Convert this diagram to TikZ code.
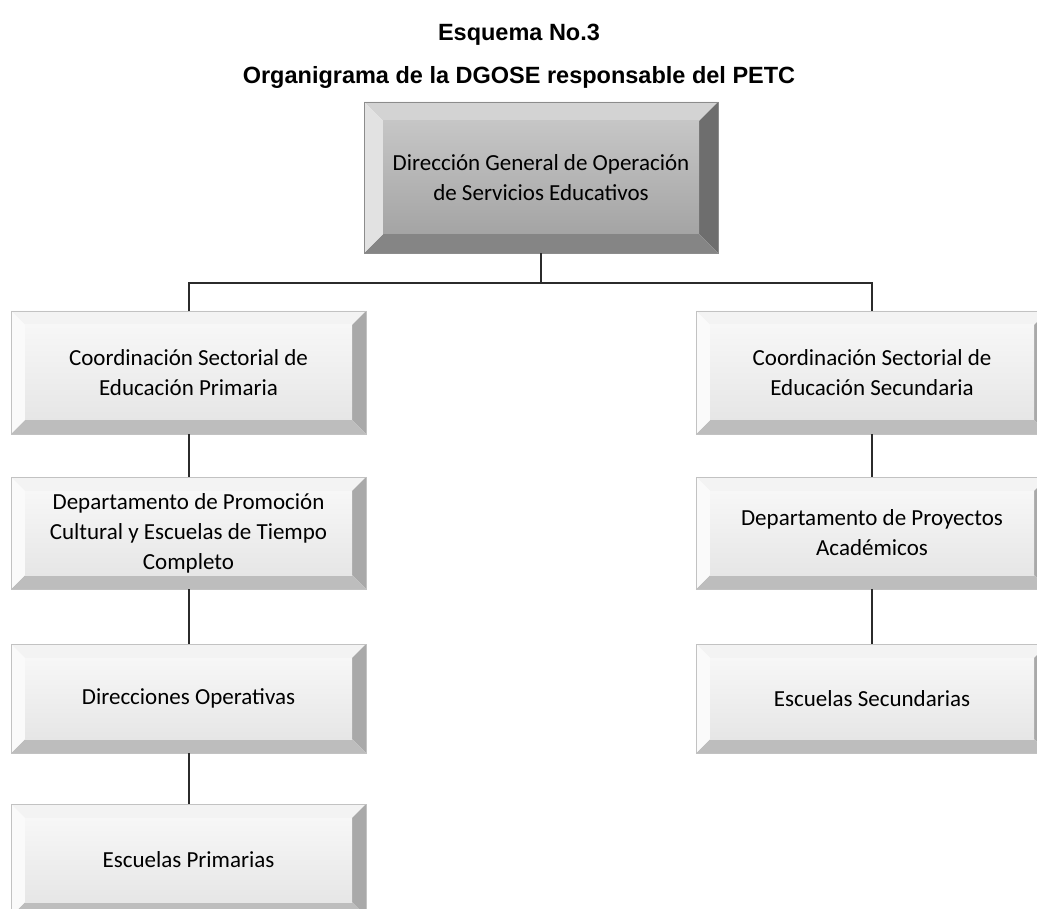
\documentclass[tikz,border=0pt]{standalone}
\usepackage{fontspec}
\newfontfamily\boxfont{Carlito}
\newfontfamily\titlefont{Liberation Sans}
\definecolor{LtTop}{HTML}{F3F3F3}
\definecolor{LtLeft}{HTML}{FAFAFA}
\definecolor{LtRight}{HTML}{A9A9A9}
\definecolor{LtBottom}{HTML}{BDBDBD}
\definecolor{LtFaceA}{HTML}{F7F7F7}
\definecolor{LtFaceB}{HTML}{E6E6E6}
\definecolor{LtLine}{HTML}{C2C2C2}
\definecolor{DkTop}{HTML}{D3D3D3}
\definecolor{DkLeft}{HTML}{E2E2E2}
\definecolor{DkRight}{HTML}{6E6E6E}
\definecolor{DkBottom}{HTML}{858585}
\definecolor{DkFaceA}{HTML}{C6C6C6}
\definecolor{DkFaceB}{HTML}{A4A4A4}
\definecolor{DkLine}{HTML}{8C8C8C}
\definecolor{LinkGray}{HTML}{2B2B2B}
\tikzset{
  bevel/.store in=\bv, bevel=14pt,
  bevelbox/.style={draw=#1Line, line width=.6pt, inner sep=0pt, minimum width=355pt, align=center,
    font=\boxfont\fontsize{23}{30}\selectfont,
    path picture={
      \coordinate (sw) at (path picture bounding box.south west); \coordinate (ne) at (path picture bounding box.north east);
      \coordinate (isw) at ([shift={(\bv,\bv)}]sw); \coordinate (ine) at ([shift={(-\bv,-\bv)}]ne);
      \fill[#1Top] (sw|-ne) -- (ne) -- (ine) -- (isw|-ine) -- cycle;
      \fill[#1Right] (ne) -- (ne|-sw) -- (ine|-isw) -- (ine) -- cycle;
      \fill[#1Bottom] (sw) -- (ne|-sw) -- (ine|-isw) -- (isw) -- cycle;
      \fill[#1Left] (sw) -- (sw|-ne) -- (isw|-ine) -- (isw) -- cycle;
      \shade[top color=#1FaceA, bottom color=#1FaceB] (isw) rectangle (ine);
    }},
  link/.style={draw=LinkGray, line width=2pt}
}
\begin{document}
\begin{tikzpicture}[x=1pt,y=-1pt]
  \useasboundingbox (0,0) rectangle (1037,909); \clip (0,0) rectangle (1037,909);
  \node[font=\titlefont\bfseries\fontsize{23.5}{28}\selectfont, anchor=base] (esq) at (519,40.5) {Esquema No.3};
  \node[font=\titlefont\bfseries\fontsize{23.5}{28}\selectfont, anchor=base] (org) at (519,83.5) {Organigrama de la DGOSE responsable del PETC};
  \node[bevelbox=Dk, bevel=19pt, minimum width=354pt, minimum height=151pt] (dgose) at (541,177.5) {Dirección General de Operación\\de Servicios Educativos};
  \node[bevelbox=Lt, minimum height=123pt] (cpri) at (188.5,372.5) {Coordinación Sectorial de\\Educación Primaria};
  \node[bevelbox=Lt, minimum height=112pt] (dpro) at (188.5,533) {Departamento de Promoción\\Cultural y Escuelas de Tiempo\\Completo};
  \node[bevelbox=Lt, minimum height=109pt] (dops) at (188.5,698.5) {Direcciones Operativas};
  \node[bevelbox=Lt, minimum height=112pt] (epri) at (188.5,860) {Escuelas Primarias};
  \node[bevelbox=Lt, minimum width=352pt, minimum height=123pt] (csec) at (872,372.5) {Coordinación Sectorial de\\Educación Secundaria};
  \node[bevelbox=Lt, minimum width=352pt, minimum height=112pt] (dpac) at (872,533) {Departamento de Proyectos\\Académicos};
  \node[bevelbox=Lt, minimum width=352pt, minimum height=109pt] (esec) at (872,698.5) {Escuelas Secundarias};
  \coordinate (bus) at (541,283);
  \draw[link] (dgose.south) -- (bus); \draw[link] (cpri.north) |- (bus) -| (csec.north);
  \draw[link] (cpri.south) -- (dpro.north); \draw[link] (dpro.south) -- (dops.north); \draw[link] (dops.south) -- (epri.north);
  \draw[link] (csec.south) -- (dpac.north); \draw[link] (dpac.south) -- (esec.north);
\end{tikzpicture}
\end{document}
